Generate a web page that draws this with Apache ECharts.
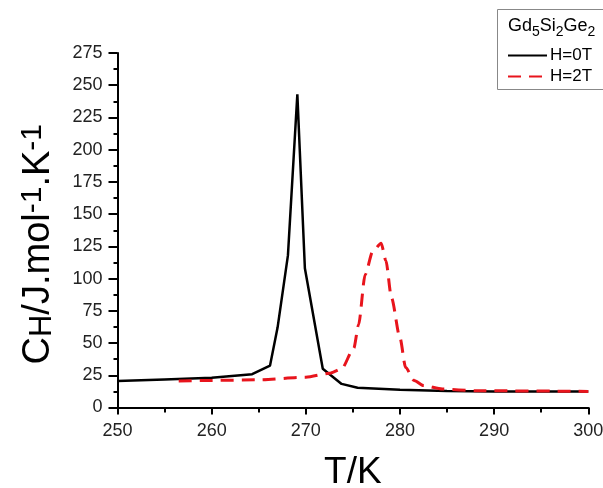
<!DOCTYPE html>
<html>
<head>
<meta charset="utf-8">
<script src="https://cdn.jsdelivr.net/npm/echarts@6/dist/echarts.min.js"></script>
<style>
  html, body { margin: 0; padding: 0; background: #fff; }
  #chart { width: 603px; height: 488px; }
</style>
</head>
<body>
<div id="chart"></div>
<script>
// Specific heat of Gd5Si2Ge2 around the magnetostructural transition
const seriesNames = ['H=0T', 'H=2T'];

// H = 0 T
const tempH0 = [250, 255, 260, 264.3, 266.2, 267.0, 268.1, 269.1, 269.9, 271.8, 273.8, 275.5, 280, 285, 290, 295, 300];
const cpH0   = [20.5, 21.7, 23, 25.8, 32.5, 62, 118, 243, 108, 30, 18.3, 15.3, 13.7, 12.8, 12.5, 12.5, 12.5];

// H = 2 T
const tempH2 = [256.5, 260, 265, 270, 272.5, 273.8, 275.1, 275.6, 276.3, 277.1, 278.0, 278.5, 279.1, 280.0, 280.6, 281.5, 282.5, 284.5, 288, 300];
const cpH2   = [20.5, 21, 21.5, 23.5, 26.5, 30, 46, 64, 103, 121, 127.5, 114, 85, 54, 31, 21, 17, 14.3, 13, 12.5];

const xTicks = [250, 260, 270, 280, 290, 300];
const yTicks = [0, 25, 50, 75, 100, 125, 150, 175, 200, 225, 250, 275];

const pairs = (xs, ys) => xs.map((x, i) => [x, ys[i]]);

const FONT = '"Liberation Sans", Arial, sans-serif';
const chart = echarts.init(document.getElementById('chart'), null, { renderer: 'canvas' });

const axisLine = { show: true, onZero: false, lineStyle: { color: '#000', width: 2 } };
const labelStyle = { color: '#222', fontSize: 18, fontFamily: FONT };

chart.setOption({
  animation: false,
  backgroundColor: '#fff',
  grid: { left: 117.5, right: 14.7, top: 53, bottom: 80.5, containLabel: false, outerBoundsMode: 'none' },
  xAxis: {
    type: 'value',
    min: xTicks[0],
    max: xTicks[xTicks.length - 1],
    interval: 10,
    name: 'T/K',
    nameLocation: 'middle',
    nameGap: 47,
    nameTextStyle: { color: '#000', fontSize: 37, fontFamily: FONT },
    axisLine: axisLine,
    axisTick: { show: true, inside: false, length: 7, lineStyle: { color: '#000', width: 2 } },
    minorTick: { show: true, splitNumber: 2, length: 5, lineStyle: { color: '#000', width: 2 } },
    splitLine: { show: false },
    axisLabel: Object.assign({}, labelStyle, { margin: 15 })
  },
  yAxis: {
    type: 'value',
    min: yTicks[0],
    max: yTicks[yTicks.length - 1],
    interval: 25,
    name: '{b|C}{h|H}{b|/J.mol}{sup|-1}{b|.K}{sup|-1}',
    nameLocation: 'middle',
    nameGap: 60,
    nameTextStyle: {
      color: '#000', fontFamily: FONT, fontSize: 38,
      padding: [0, 28, 0, 0],
      rich: {
        b: { fontSize: 38, fontFamily: FONT, color: '#000', verticalAlign: 'bottom' },
        h: { fontSize: 31, fontFamily: FONT, color: '#000', verticalAlign: 'bottom', padding: [0, 0, 0, 0] },
        sup: { fontSize: 30, fontFamily: FONT, color: '#000', verticalAlign: 'top', padding: [0, 0, 10, 0] }
      }
    },
    axisLine: axisLine,
    axisTick: { show: true, inside: false, length: 9, lineStyle: { color: '#000', width: 2 } },
    minorTick: { show: true, splitNumber: 2, length: 4, lineStyle: { color: '#000', width: 2 } },
    splitLine: { show: false },
    axisLabel: Object.assign({}, labelStyle, { margin: 15 })
  },
  legend: {
    orient: 'vertical',
    left: 507,
    top: 47,
    padding: 0,
    itemWidth: 39,
    itemHeight: 14,
    itemGap: 4,
    itemStyle: { opacity: 0 },
    textStyle: { color: '#000', fontSize: 17, fontFamily: FONT, padding: [0, 0, 0, -2] },
    data: seriesNames
  },
  graphic: [
    {
      type: 'rect',
      shape: { x: 497.5, y: 9.5, width: 130, height: 80 },
      style: { fill: 'none', stroke: '#888', lineWidth: 1 },
      silent: true
    },
    {
      type: 'text',
      left: 508,
      top: 17,
      style: {
        text: '{m|Gd}{s|5}{m|Si}{s|2}{m|Ge}{s|2}',
        fill: '#000',
        rich: {
          m: { fontSize: 18, fontFamily: FONT, fill: '#000', verticalAlign: 'top', padding: [0, 0, 0, 0] },
          s: { fontSize: 14, fontFamily: FONT, fill: '#000', verticalAlign: 'top', padding: [8, 0, 0, 0] }
        }
      },
      silent: true
    }
  ],
  series: [
    {
      name: seriesNames[0],
      type: 'line',
      data: pairs(tempH0, cpH0),
      symbol: 'none',
      lineStyle: { color: '#000', width: 2.5 },
      itemStyle: { color: '#000' },
      z: 3
    },
    {
      name: seriesNames[1],
      type: 'line',
      data: pairs(tempH2, cpH2),
      symbol: 'none',
      smooth: 0.25,
      smoothMonotone: 'x',
      lineStyle: { color: '#e8141c', width: 3, type: [13, 8] },
      itemStyle: { color: '#e8141c' },
      z: 4
    }
  ]
});
</script>
</body>
</html>
